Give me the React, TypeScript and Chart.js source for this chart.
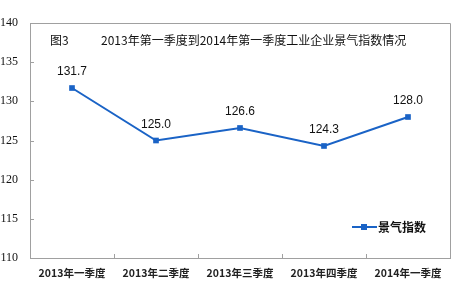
import React, { useEffect, useRef } from "react";
import { Chart, registerables } from "chart.js";

Chart.register(...registerables);

const categories = ["2013年一季度", "2013年二季度", "2013年三季度", "2013年四季度", "2014年一季度"];
const indexValues = [131.7, 125.0, 126.6, 124.3, 128.0];
const yTicks = [110, 115, 120, 125, 130, 135, 140];
const seriesName = "景气指数";
const titleLabel = "图3";
const titleText = "2013年第一季度到2014年第一季度工业企业景气指数情况";

const BLUE = "#1a63c6";
const GRAY = "#a0a0a0";
const CJK = "'Noto Sans CJK SC', sans-serif";

export default function App() {
  const ref = useRef<HTMLCanvasElement | null>(null);
  useEffect(() => {
    document.body.style.margin = "0";
    const canvas = ref.current!;
    const decor = {
      id: "decor",
      afterDraw(chart: any) {
        const { ctx, chartArea: a, scales } = chart;
        ctx.save();
        ctx.strokeStyle = GRAY;
        ctx.lineWidth = 1;
        ctx.beginPath();
        ctx.moveTo(a.left + 0.5, a.top + 0.5);
        ctx.lineTo(a.right + 0.5, a.top + 0.5);
        ctx.lineTo(a.right + 0.5, a.bottom);
        ctx.stroke();
        ctx.beginPath();
        yTicks.forEach((v) => {
          const y = Math.round(scales.y.getPixelForValue(v)) + 0.5;
          ctx.moveTo(a.left, y);
          ctx.lineTo(a.left + 4, y);
        });
        for (let i = 1; i < categories.length; i++) {
          const x = Math.round((scales.x.getPixelForValue(i - 1) + scales.x.getPixelForValue(i)) / 2) + 0.5;
          ctx.moveTo(x, a.bottom);
          ctx.lineTo(x, a.bottom - 4);
        }
        ctx.stroke();
        ctx.fillStyle = "#111";
        ctx.font = `12px ${CJK}`;
        ctx.textBaseline = "middle";
        ctx.textAlign = "left";
        ctx.fillText(titleLabel, 50, 40);
        ctx.fillText(titleText, 101, 40);
        const meta = chart.getDatasetMeta(0);
        ctx.font = "12px 'Liberation Sans', Arial, sans-serif";
        ctx.textAlign = "center";
        ctx.textBaseline = "bottom";
        meta.data.forEach((p: any, i: number) => {
          ctx.fillText(indexValues[i].toFixed(1), p.x, p.y - 10);
        });
        const ly = 227;
        ctx.strokeStyle = BLUE;
        ctx.lineWidth = 2;
        ctx.beginPath();
        ctx.moveTo(352, ly);
        ctx.lineTo(377, ly);
        ctx.stroke();
        ctx.fillStyle = BLUE;
        ctx.fillRect(361, ly - 3, 6, 6);
        ctx.fillStyle = "#111";
        ctx.font = `bold 12px ${CJK}`;
        ctx.textAlign = "left";
        ctx.textBaseline = "middle";
        ctx.fillText(seriesName, 378, ly);
        ctx.restore();
      },
    };
    const chart = new Chart(canvas, {
      type: "line",
      data: {
        labels: categories,
        datasets: [
          {
            label: seriesName,
            data: indexValues,
            borderColor: BLUE,
            backgroundColor: BLUE,
            borderWidth: 2,
            pointStyle: "rect",
            pointRadius: 4,
            pointBorderWidth: 0,
            tension: 0,
          },
        ],
      },
      options: {
        responsive: false,
        animation: false,
        layout: { padding: { top: 23, right: 10, bottom: 0, left: 0 } },
        plugins: { legend: { display: false }, tooltip: { enabled: false }, title: { display: false } },
        scales: {
          x: {
            offset: true,
            grid: { display: false, drawTicks: false },
            border: { color: GRAY, width: 1 },
            ticks: {
              color: "#222",
              font: { family: CJK, size: 10.5, weight: "bold" },
              padding: 9,
              maxRotation: 0,
              autoSkip: false,
            },
            afterFit(s: any) {
              s.height = 27;
            },
          },
          y: {
            min: 110,
            max: 140,
            grid: { display: false, drawTicks: false },
            border: { color: GRAY, width: 1 },
            afterBuildTicks(s: any) {
              s.ticks = yTicks.map((v) => ({ value: v }));
            },
            ticks: {
              color: "#111",
              font: { family: "'Liberation Serif', serif", size: 12 },
              padding: 12,
            },
            afterFit(s: any) {
              s.width = 30;
            },
          },
        },
      },
      plugins: [decor],
    });
    return () => chart.destroy();
  }, []);
  return <canvas ref={ref} width={460} height={285} style={{ display: "block" }} />;
}
